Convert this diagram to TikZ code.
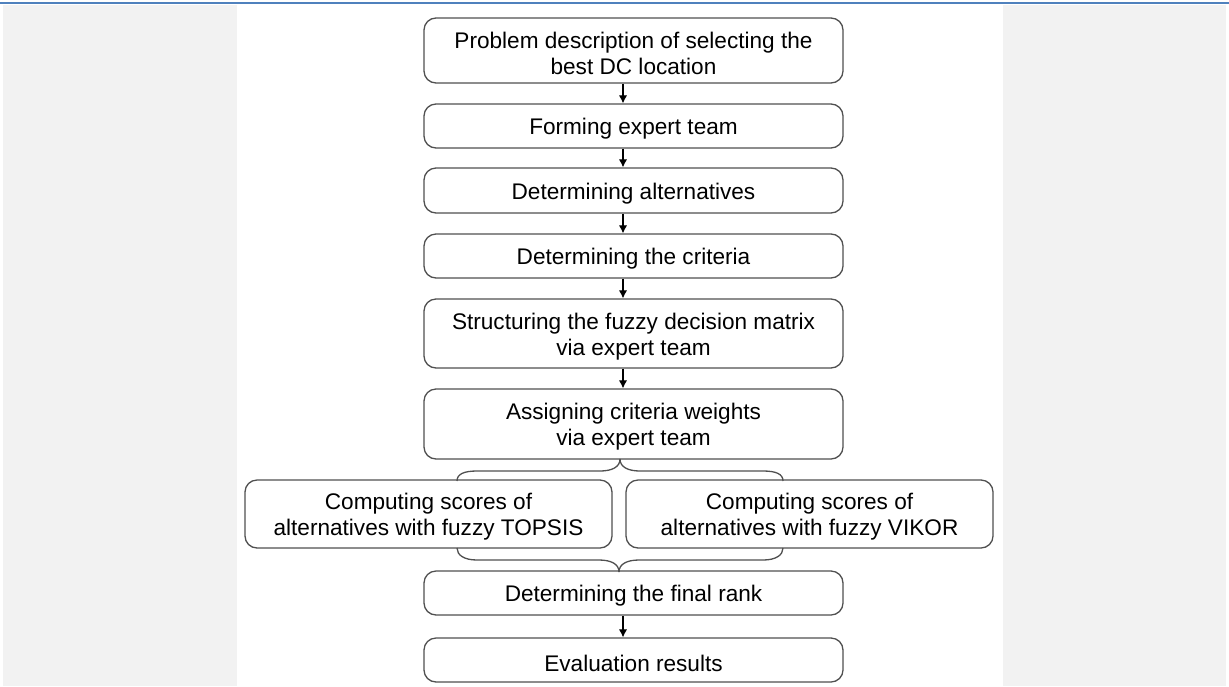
\documentclass[tikz,border=0pt]{standalone}
\usepackage{fontspec}
\setmainfont{Liberation Sans}
\usetikzlibrary{arrows.meta}
\definecolor{panelgray}{HTML}{F2F2F2}
\definecolor{rulblue}{HTML}{4F81BD}
\definecolor{boxline}{HTML}{505050}
\newcommand\topstrut{\rule{0pt}{11.2pt}}
\begin{document}
\begin{tikzpicture}[x=0.5pt,y=-0.5pt,
  stepbox/.style={draw=boxline, line width=0.65pt, rounded corners=6pt, fill=white,
    inner sep=0pt, align=center, minimum width=209.5pt,
    font=\fontsize{11.3}{13}\selectfont},
  sidebox/.style={stepbox, minimum width=183.5pt},
  arr/.style={draw=black, line width=0.6pt, -{Latex[length=4pt,width=4.2pt]}},
  bracel/.style={draw=boxline, line width=0.65pt}]
\useasboundingbox (0,0) rectangle (1229,686);
% background panels
\fill[panelgray] (3,5) rectangle (237,686);
\fill[panelgray] (1003,5) rectangle (1226,686);
\draw[rulblue, line width=1pt] (0,3) -- (1229,3);
% column for connectors
\coordinate (axis) at (623,0);
% boxes
\node[stepbox, minimum height=32.5pt] (b1) at (633.5,50.5) {\topstrut Problem description of selecting the\\best DC location};
\node[stepbox, minimum height=22pt] (b2) at (633.5,126) {\topstrut Forming expert team};
\node[stepbox, minimum height=22.5pt] (b3) at (633.5,190.5) {\topstrut Determining alternatives};
\node[stepbox, minimum height=22pt] (b4) at (633.5,256) {\topstrut Determining the criteria};
\node[stepbox, minimum height=34.5pt] (b5) at (633.5,333.5) {\topstrut Structuring the fuzzy decision matrix\\via expert team};
\node[stepbox, minimum height=35pt] (b6) at (633.5,424) {\topstrut Assigning criteria weights\\via expert team};
\node[sidebox, minimum height=34pt] (b7) at (428.5,514) {\topstrut Computing scores of\\alternatives with fuzzy TOPSIS};
\node[sidebox, minimum height=34pt] (b8) at (809.5,514) {\topstrut Computing scores of\\alternatives with fuzzy VIKOR};
\node[stepbox, minimum height=22pt] (b9) at (633.5,593) {\topstrut Determining the final rank};
\node[stepbox, minimum height=22pt] (b10) at (633.5,660) {\topstrut Evaluation results};
% arrows
\draw[arr] (b1.south -| axis) -- (b2.north -| axis);
\draw[arr] (b2.south -| axis) -- (b3.north -| axis);
\draw[arr] (b3.south -| axis) -- (b4.north -| axis);
\draw[arr] (b4.south -| axis) -- (b5.north -| axis);
\draw[arr] (b5.south -| axis) -- (b6.north -| axis);
\draw[arr] (b9.south -| axis) -- (b10.north -| axis);
% upper brace
\coordinate (ut) at (620,459);
\coordinate (ul) at (457,481);
\coordinate (ur) at (783,481);
\draw[bracel] (ut) .. controls (620,467) and (612,471) .. (600,471) -- (477,471)
  .. controls (464,471) and (457,474) .. (ul);
\draw[bracel] (ut) .. controls (620,467) and (628,471) .. (640,471) -- (763,471)
  .. controls (776,471) and (783,474) .. (ur);
% lower brace
\coordinate (lt) at (619,572);
\coordinate (ll) at (457,548);
\coordinate (lr) at (783,548);
\draw[bracel] (ll) .. controls (457,555) and (464,560) .. (477,560) -- (599,560)
  .. controls (611,560) and (619,564) .. (lt);
\draw[bracel] (lr) .. controls (783,555) and (776,560) .. (763,560) -- (639,560)
  .. controls (627,560) and (619,564) .. (lt);
\end{tikzpicture}
\end{document}
